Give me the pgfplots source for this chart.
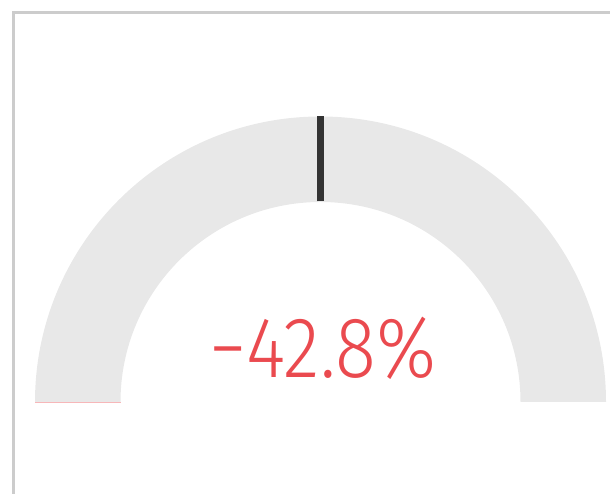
\documentclass[border=0pt]{standalone}
\usepackage{pgfplots}
\pgfplotsset{compat=1.18}
\usepackage{fontspec}
\setmainfont{Fira Sans}[UprightFont=* Light]
\definecolor{gaugebg}{HTML}{E8E8E8}
\definecolor{needle}{HTML}{333333}
\definecolor{valred}{HTML}{EA4A4F}
\definecolor{frame}{HTML}{CCCCCC}
\begin{document}
\begin{tikzpicture}
\begin{axis}[
  width=610pt, height=494pt, scale only axis,
  xmin=0, xmax=610, ymin=0, ymax=494,
  hide axis, clip=false,
]
% frame (left and top border)
\addplot[frame, line width=3pt, no marks] coordinates {(13,0) (13,481.5) (610,481.5)};
% gauge background (half donut, centre (320.5,92), radii 285.5 / 200)
\fill[gaugebg] (axis cs:35,92) arc[start angle=180, end angle=0, radius=285.5pt]
  -- (axis cs:520.5,92) arc[start angle=0, end angle=180, radius=200pt] -- cycle;
% value fill (zero width at minimum)
\addplot[valred!40, line width=0.8pt, no marks] coordinates {(35,92) (120.5,92)};
% needle / target marker
\addplot[needle, line width=7pt, no marks] coordinates {(320.5,292.5) (320.5,378)};
% value label
\node[valred, font=\fontsize{86}{86}\selectfont, anchor=base, inner sep=0pt] at (axis cs:323,116) {\scalebox{0.88}[1]{−42.8\%}};
\end{axis}
\pgfresetboundingbox
\path (current axis.south west) rectangle (current axis.north east);
\end{tikzpicture}
\end{document}
